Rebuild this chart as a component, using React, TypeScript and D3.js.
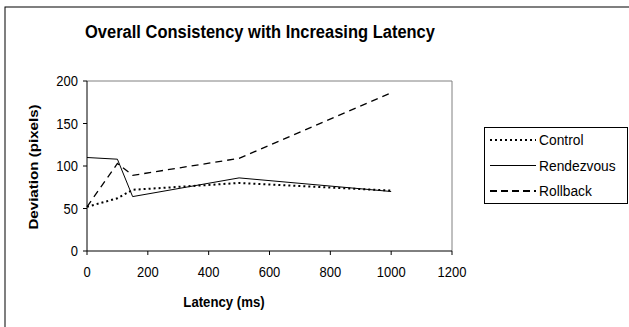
import React from "react";
import * as d3 from "d3";

const latencies = [0, 100, 150, 500, 1000];
const controlValues = [52, 62, 72, 80, 71];
const rendezvousValues = [110, 108, 64, 86, 70];
const rollbackValues = [52, 103, 89, 109, 186];
const seriesNames = ["Control", "Rendezvous", "Rollback"];
const xTicks = [0, 200, 400, 600, 800, 1000, 1200];
const yTicks = [0, 50, 100, 150, 200];

const styles: Record<string, { dash: string; width: number; legDash: string; legWidth: number }> = {
  Control: { dash: "2,3", width: 2, legDash: "2,3", legWidth: 2 },
  Rendezvous: { dash: "", width: 1, legDash: "", legWidth: 1 },
  Rollback: { dash: "7,5", width: 1.3, legDash: "7,4", legWidth: 2 },
};

const SY = 1.12;

function T(props: {
  x: number;
  y: number;
  size: number;
  bold?: boolean;
  anchor?: "start" | "middle" | "end";
  children: React.ReactNode;
}) {
  return (
    <text
      transform={`translate(${props.x},${props.y}) scale(1,${SY})`}
      dy="0.35em"
      textAnchor={props.anchor || "start"}
      fontSize={props.size}
      fontWeight={props.bold ? "bold" : "normal"}
    >
      {props.children}
    </text>
  );
}

export default function App() {
  const W = 629, H = 327;
  const left = 87, right = 452, top = 81, bottom = 251;
  const x = d3.scaleLinear().domain([0, 1200]).range([left, right]);
  const y = d3.scaleLinear().domain([0, 200]).range([bottom, top]);
  const font = "Arial, 'Liberation Sans', sans-serif";
  const seriesData = [controlValues, rendezvousValues, rollbackValues];
  const line = d3
    .line<number>()
    .x((_, i) => x(latencies[i]))
    .y((d) => y(d));

  return (
    <svg
      width={W}
      height={H}
      style={{ position: "absolute", left: 0, top: 0 }}
      fontFamily={font}
    >
      <rect x={0} y={0} width={W} height={H} fill="#fff" />
      <rect x={5} y={7} width={W + 10} height={H + 10} fill="none" stroke="#000" strokeWidth={1} />
      <T x={260} y={32} size={16.5} bold anchor="middle">
        Overall Consistency with Increasing Latency
      </T>
      {/* plot border */}
      <line x1={left} x2={right} y1={top} y2={top} stroke="#808080" />
      <line x1={right} x2={right} y1={top} y2={bottom} stroke="#808080" />
      {/* axes */}
      <line x1={left} x2={left} y1={top} y2={bottom} stroke="#000" />
      <line x1={left} x2={right} y1={bottom} y2={bottom} stroke="#000" />
      {yTicks.map((t) => (
        <g key={"y" + t}>
          <line x1={left - 4} x2={left} y1={y(t)} y2={y(t)} stroke="#000" />
          <T x={left - 9} y={y(t)} size={13} anchor="end">
            {t}
          </T>
        </g>
      ))}
      {xTicks.map((t) => (
        <g key={"x" + t}>
          <line x1={x(t)} x2={x(t)} y1={bottom} y2={bottom + 4} stroke="#000" />
          <T x={x(t)} y={272} size={13} anchor="middle">
            {t}
          </T>
        </g>
      ))}
      <T x={224} y={302} size={13.2} bold anchor="middle">
        Latency (ms)
      </T>
      <text
        transform={`translate(33,167) rotate(-90) scale(${SY},1)`}
        textAnchor="middle"
        dy="0.35em"
        fontSize={13.5}
        fontWeight="bold"
      >
        Deviation (pixels)
      </text>
      {seriesNames.map((name, i) => (
        <path
          key={name}
          d={line(seriesData[i]) || ""}
          fill="none"
          stroke="#000"
          strokeWidth={styles[name].width}
          strokeDasharray={styles[name].dash}
        />
      ))}
      {/* legend */}
      <rect x={484.5} y={127.5} width={143} height={76} fill="#fff" stroke="#000" />
      {seriesNames.map((name, i) => {
        const ly = 140 + i * 25.5;
        return (
          <g key={"l" + name}>
            <line
              x1={490}
              x2={536}
              y1={ly}
              y2={ly}
              stroke="#000"
              strokeWidth={styles[name].legWidth}
              strokeDasharray={styles[name].legDash}
            />
            <T x={539} y={ly} size={13.8}>
              {name}
            </T>
          </g>
        );
      })}
    </svg>
  );
}
